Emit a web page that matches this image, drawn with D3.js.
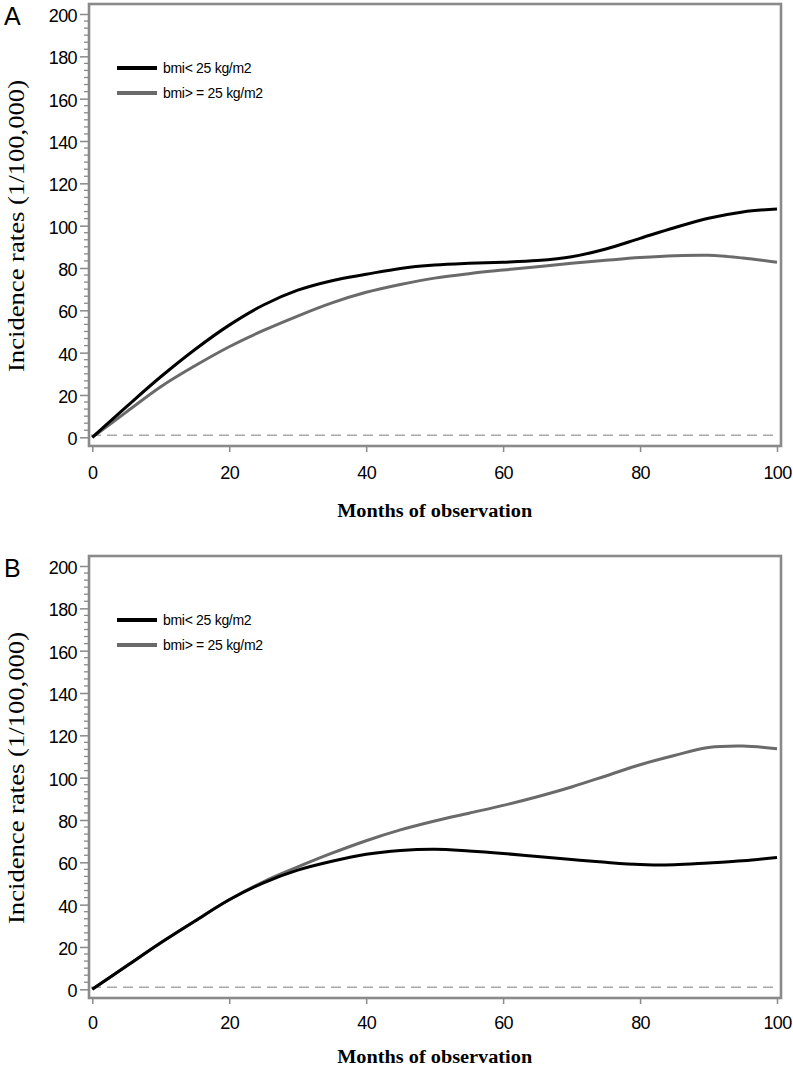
<!DOCTYPE html>
<html>
<head>
<meta charset="utf-8">
<script src="https://cdn.jsdelivr.net/npm/d3@7/dist/d3.min.js"></script>
<style>
  html, body { margin: 0; padding: 0; background: #fff; }
  svg { display: block; }
</style>
</head>
<body>
<script>
// ---- data ----
const months = [0,5,10,15,20,25,30,35,40,45,50,55,60,65,70,75,80,85,90,95,100];
const panelA_low  = [0,14.5,28.6,41.5,53,62.5,69.5,74,77,79.8,81.4,82.2,82.7,83.5,85.3,89,94,99,103.5,106.5,107.9];
const panelA_high = [0,12,23.9,33.8,42.8,50.5,57.3,63.5,68.5,72.2,75.2,77.3,79,80.6,82.2,83.6,84.9,85.8,86,84.7,82.7];
const panelB_low  = [0,11,22,32.3,42.3,50.3,56.3,60.5,63.8,65.6,66.2,65.4,64.2,62.7,61.3,60,59,58.8,59.7,60.7,62.3];
const panelB_high = [0,11,22,32.3,42.3,50.8,57.8,64.3,70.2,75.3,79.5,83.2,86.9,91,95.6,100.8,106.1,110.5,114.2,114.9,113.7];
const xTicks = [0,20,40,60,80,100];
const yTicks = [0,20,40,60,80,100,120,140,160,180,200];
const seriesNames = ["bmi< 25 kg/m2", "bmi> = 25 kg/m2"];
const panelLetters = ["A", "B"];
const xTitle = "Months of observation";
const yTitle = "Incidence rates (1/100,000)";
const refValue = 1;

const panels = [
  { letter: panelLetters[0], low: panelA_low, high: panelA_high, titleY: 517, tickPad: 14 },
  { letter: panelLetters[1], low: panelB_low, high: panelB_high, titleY: 511, tickPad: 12 }
];

const W = 793, H = 1071;
const svg = d3.select("body").append("svg").attr("width", W).attr("height", H);
svg.append("rect").attr("width", W).attr("height", H).attr("fill", "#fff");

const frameColor = "#8a8a8a";
const colors = ["#000000", "#6a6a6a"];

panels.forEach((p, i) => {
  const dy = i * 552;
  const g = svg.append("g").attr("transform", `translate(0,${dy})`);
  const x = d3.scaleLinear().domain([0, 100]).range([92.3, 777]);
  const y = d3.scaleLinear().domain([0, 200]).range([437.3, 14]);
  const fL = 89, fR = 781, fT = 4, fB = 446;

  // minor ticks
  const minor = [];
  for (let k = 0; k < yTicks.length - 1; k++) {
    for (let m = 1; m < 6; m++) minor.push(yTicks[k] + m * (yTicks[k+1] - yTicks[k]) / 6);
  }
  g.selectAll(".minor").data(minor).enter().append("line")
    .attr("x1", fL - 5).attr("x2", fL)
    .attr("y1", d => y(d)).attr("y2", d => y(d))
    .attr("stroke", frameColor).attr("stroke-width", 1.3);

  // y axis major ticks + labels
  const yAxis = d3.axisLeft(y).tickValues(yTicks).tickSize(9).tickPadding(3).tickFormat(d3.format("d"));
  const ya = g.append("g").attr("transform", `translate(${fL},0)`).call(yAxis);
  ya.select(".domain").remove();
  ya.selectAll(".tick line").attr("stroke", frameColor).attr("stroke-width", 1.5);
  ya.selectAll(".tick text")
    .attr("font-family", "'Liberation Sans', Arial, sans-serif")
    .attr("font-size", 18).attr("letter-spacing", "-0.6").attr("fill", "#000")
    .attr("dy", "0.42em");

  // x axis
  const xAxis = d3.axisBottom(x).tickValues(xTicks).tickSize(6).tickPadding(p.tickPad).tickFormat(d3.format("d"));
  const xa = g.append("g").attr("transform", `translate(0,${fB})`).call(xAxis);
  xa.select(".domain").remove();
  xa.selectAll(".tick line").attr("stroke", frameColor).attr("stroke-width", 1.5);
  xa.selectAll(".tick text")
    .attr("font-family", "'Liberation Sans', Arial, sans-serif")
    .attr("font-size", 18).attr("letter-spacing", "-0.6").attr("fill", "#000");

  // reference dashed line
  g.append("line")
    .attr("x1", fL + 2).attr("x2", fR - 2)
    .attr("y1", y(refValue)).attr("y2", y(refValue))
    .attr("stroke", "#a8a8a8").attr("stroke-width", 1.6)
    .attr("stroke-dasharray", "10,6");

  // curves
  const line = d3.line().x((d, j) => x(months[j])).y(d => y(d)).curve(d3.curveCatmullRom.alpha(0.5));
  [p.high, p.low].forEach((vals, k) => {
    g.append("path").datum(vals)
      .attr("d", line)
      .attr("fill", "none")
      .attr("stroke", k === 0 ? colors[1] : colors[0])
      .attr("stroke-width", 3)
      .attr("stroke-linejoin", "round");
  });

  // frame
  g.append("rect")
    .attr("x", fL).attr("y", fT).attr("width", fR - fL).attr("height", fB - fT)
    .attr("fill", "none").attr("stroke", frameColor).attr("stroke-width", 2.6);

  // legend
  seriesNames.forEach((name, k) => {
    const ly = 68 + k * 25;
    g.append("line").attr("x1", 117).attr("x2", 157).attr("y1", ly).attr("y2", ly)
      .attr("stroke", colors[k]).attr("stroke-width", 4);
    g.append("text").attr("x", 163).attr("y", ly + 5)
      .attr("font-family", "'Liberation Sans', Arial, sans-serif")
      .attr("font-size", 14).attr("letter-spacing", "-0.3").attr("fill", "#000")
      .text(name);
  });

  // panel letter
  g.append("text").attr("x", 4).attr("y", 25)
    .attr("font-family", "'Liberation Sans', Arial, sans-serif")
    .attr("font-size", 25).attr("fill", "#000").text(p.letter);

  // x title
  g.append("text").attr("x", 434.7).attr("y", p.titleY)
    .attr("text-anchor", "middle")
    .attr("font-family", "'Liberation Serif', 'Times New Roman', serif")
    .attr("font-weight", "bold").attr("font-size", 18)
    .attr("textLength", 195).attr("lengthAdjust", "spacingAndGlyphs")
    .attr("fill", "#000").text(xTitle);

  // y title
  g.append("text")
    .attr("transform", `translate(24,226) rotate(-90)`)
    .attr("text-anchor", "middle")
    .attr("font-family", "'Liberation Serif', 'Times New Roman', serif")
    .attr("font-size", 23)
    .attr("textLength", 292).attr("lengthAdjust", "spacingAndGlyphs")
    .attr("fill", "#000").text(yTitle);
});
</script>
</body>
</html>
